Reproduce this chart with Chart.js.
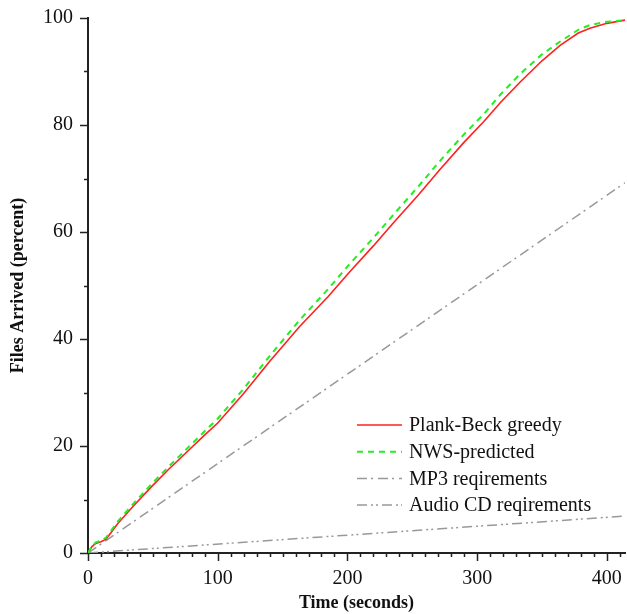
<!DOCTYPE html>
<html>
<head>
<meta charset="utf-8">
<script src="https://cdn.jsdelivr.net/npm/chart.js@4"></script>
<style>
  body { margin: 0; background: #fff; }
  #wrap { width: 627px; height: 614px; position: relative; }
</style>
</head>
<body>
<div id="wrap"><canvas id="myChart" width="627" height="614"></canvas></div>
<script>
// data
const pbTime = [0, 3, 6, 10, 14, 23, 35, 49, 62, 75, 88, 100, 120, 140, 163, 185, 202, 220, 235, 255, 271, 290, 305, 318, 333, 350, 364, 378, 387, 400, 414];
const pbPct  = [0, 1.2, 1.8, 2.1, 2.6, 5.5, 8.8, 12.4, 15.6, 18.6, 21.6, 24.3, 29.8, 35.8, 42.3, 47.9, 52.6, 57.4, 61.6, 67.0, 71.6, 76.8, 80.6, 84.2, 88.0, 92.0, 94.9, 97.2, 98.1, 99.0, 99.6];
const nwsPct = [0, 1.3, 2.0, 2.3, 2.9, 5.9, 9.2, 12.9, 16.1, 19.2, 22.3, 25.1, 30.7, 36.8, 43.5, 49.3, 54.1, 58.9, 63.1, 68.6, 73.2, 78.3, 82.0, 85.7, 89.5, 93.2, 95.6, 97.8, 98.7, 99.3, 99.6];
const reqTime = [0, 414];
const mp3Pct  = [0, 69.2];
const cdPct   = [0, 6.9];

const xMajor = [0, 100, 200, 300, 400];
const yMajor = [0, 20, 40, 60, 80, 100];

const FONT = '"Liberation Serif", "Times New Roman", serif';

function pts(xs, ys) {
  return xs.map((x, i) => ({ x: x, y: ys[i] }));
}

const data = {
  datasets: [
    {
      label: 'Plank-Beck greedy',
      data: pts(pbTime, pbPct),
      borderColor: '#ff2020',
      borderWidth: 1.6,
      order: 2
    },
    {
      label: 'NWS-predicted',
      data: pts(pbTime, nwsPct),
      borderColor: '#22ee22',
      borderWidth: 2,
      borderDash: [6, 5],
      order: 1
    },
    {
      label: 'MP3 reqirements',
      data: pts(reqTime, mp3Pct),
      borderColor: '#999999',
      borderWidth: 1.5,
      borderDash: [10, 4, 2, 5],
      order: 3
    },
    {
      label: 'Audio CD reqirements',
      data: pts(reqTime, cdPct),
      borderColor: '#999999',
      borderWidth: 1.5,
      borderDash: [10, 4, 2, 3, 2, 4],
      order: 4
    }
  ]
};

// draws major/minor tick marks and the legend inside the plot
const decor = {
  id: 'decor',
  afterDraw(chart) {
    const ctx = chart.ctx;
    const xs = chart.scales.x, ys = chart.scales.y;
    const area = chart.chartArea;
    ctx.save();
    ctx.strokeStyle = '#222';
    ctx.lineWidth = 1.5;
    ctx.beginPath();
    for (let t = 0; t <= 414; t += 10) {
      const px = Math.round(xs.getPixelForValue(t)) + 0.5;
      const len = xMajor.includes(t) ? 8 : 4;
      ctx.moveTo(px, area.bottom);
      ctx.lineTo(px, area.bottom + len);
    }
    for (let v = 0; v <= 100; v += 10) {
      const py = Math.round(ys.getPixelForValue(v)) + 0.5;
      const len = yMajor.includes(v) ? 8 : 4;
      ctx.moveTo(area.left, py);
      ctx.lineTo(area.left - len, py);
    }
    ctx.stroke();

    // legend
    ctx.font = '20px ' + FONT;
    ctx.textBaseline = 'middle';
    ctx.fillStyle = '#111';
    chart.data.datasets.forEach((ds, i) => {
      const y = 425 + i * 26.7;
      ctx.strokeStyle = ds.borderColor;
      ctx.lineWidth = ds.borderWidth;
      ctx.setLineDash(ds.borderDash || []);
      ctx.beginPath();
      ctx.moveTo(357, y);
      ctx.lineTo(402, y);
      ctx.stroke();
      ctx.setLineDash([]);
      ctx.fillText(ds.label, 409, y + 1);
    });
    ctx.restore();
  }
};

function noPad(s) {
  s.paddingLeft = 0;
  s.paddingRight = 0;
  s.paddingTop = 0;
  s.paddingBottom = 0;
}

const config = {
  type: 'line',
  data,
  options: {
    responsive: false,
    animation: false,
    layout: { padding: { top: 18, right: 2, left: 0, bottom: 0 } },
    elements: {
      point: { radius: 0 },
      line: { tension: 0 }
    },
    plugins: {
      legend: { display: false },
      tooltip: { enabled: false }
    },
    scales: {
      x: {
        type: 'linear',
        min: 0,
        max: 414,
        grid: { display: false, drawTicks: false },
        border: { display: true, color: '#222', width: 2 },
        ticks: {
          stepSize: 100,
          includeBounds: false,
          maxRotation: 0,
          padding: 14,
          color: '#111',
          font: { family: FONT, size: 20 }
        },
        title: {
          display: true,
          text: 'Time (seconds)',
          color: '#111',
          padding: { top: 0, bottom: 0 },
          font: { family: FONT, size: 18, weight: 'bold' }
        },
        afterFit(s) { s.height = 61; noPad(s); }
      },
      y: {
        min: 0,
        max: 100,
        grid: { display: false, drawTicks: false },
        border: { display: true, color: '#222', width: 2 },
        ticks: {
          stepSize: 20,
          padding: 15,
          color: '#111',
          font: { family: FONT, size: 20 }
        },
        title: {
          display: true,
          text: 'Files Arrived (percent)',
          color: '#111',
          padding: { top: 8, bottom: 0 },
          font: { family: FONT, size: 18, weight: 'bold' }
        },
        afterFit(s) { s.width = 88; noPad(s); }
      }
    }
  },
  plugins: [decor]
};

const myChart = new Chart(document.getElementById('myChart'), config);
</script>
</body>
</html>
